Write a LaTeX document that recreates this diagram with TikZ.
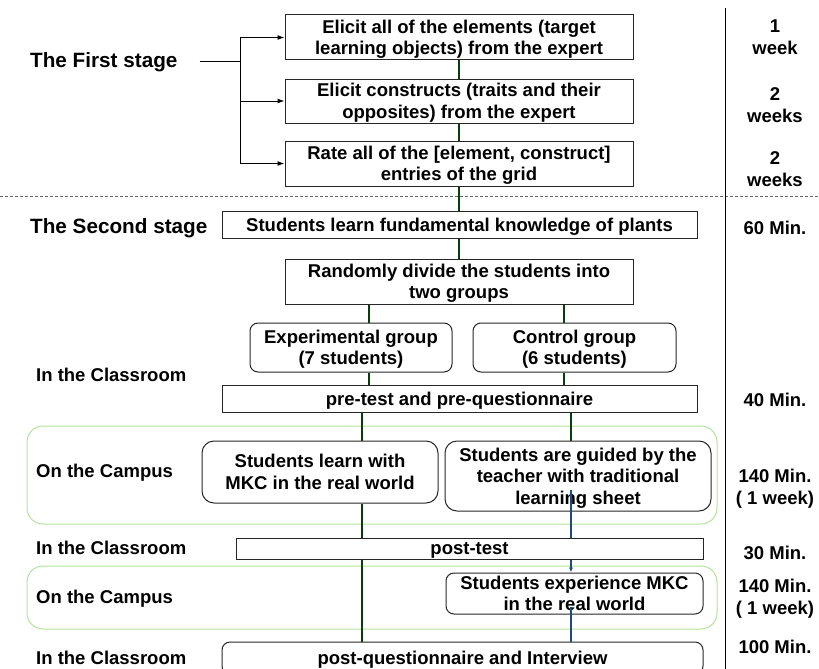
\documentclass[tikz,border=0pt]{standalone}
\usepackage{fontspec}
\setmainfont{Liberation Sans}
\usetikzlibrary{arrows.meta}
\definecolor{linkgreen}{HTML}{0B3D0B}
\definecolor{zonegreen}{HTML}{B3E39A}
\definecolor{linkblue}{HTML}{1C4C7C}

\begin{document}
\begin{tikzpicture}[x=1pt,y=-1pt,
	txt/.style={font=\bfseries\fontsize{18.5}{21.5}\selectfont, align=center, text depth=0pt},
	stagetxt/.style={font=\bfseries\fontsize{20.7}{24}\selectfont, anchor=west, inner sep=0pt},
	placetxt/.style={txt, anchor=west, inner sep=0pt},
	taskbox/.style={txt, draw=black!85, line width=1pt, inner sep=0pt},
	roundbox/.style={taskbox, rounded corners=8pt},
	greenlink/.style={linkgreen, line width=1.8pt},
	bluelink/.style={linkblue, line width=1.8pt},
	campuszone/.style={draw=zonegreen, line width=1pt, rounded corners=16pt}]
	\useasboundingbox (0,0) rectangle (819,669);

	\draw[campuszone] (27,426) rectangle (717,524);
	\draw[campuszone] (27,566) rectangle (717,629);
	\draw[dashed, dash pattern=on 3pt off 2pt, black!60, line width=0.8pt] (0,196) -- (819,196);
	\draw[line width=1pt] (725,8) -- (725,669);

	\node[stagetxt] (first) at (30,62) {The First stage};
	\node[stagetxt] (second) at (30,228) {The Second stage};
	\node[placetxt] (room1) at (36,375) {In the Classroom};
	\node[placetxt] (campus1) at (36,471) {On the Campus};
	\node[placetxt] (room2) at (36,548) {In the Classroom};
	\node[placetxt] (campus2) at (36,597) {On the Campus};
	\node[placetxt] (room3) at (36,658) {In the Classroom};

	\node[taskbox, minimum width=348pt, minimum height=45pt] (elicitel) at (459,37.5) {Elicit all of the elements (target\\learning objects) from the expert};
	\node[taskbox, minimum width=348pt, minimum height=44pt] (elicitcon) at (459,101) {Elicit constructs (traits and their\\opposites) from the expert};
	\node[taskbox, minimum width=348pt, minimum height=45pt] (rate) at (459,163.5) {Rate all of the [element, construct]\\entries of the grid};

	\node[taskbox, minimum width=475pt, minimum height=27pt] (fund) at (459.5,224.5) {Students learn fundamental knowledge of plants};
	\node[taskbox, minimum width=348pt, minimum height=45pt] (divide) at (459,281.5) {Randomly divide the students into\\two groups};
	\node[roundbox, minimum width=202pt, minimum height=49pt] (expgroup) at (351,347.5) {Experimental group\\(7 students)};
	\node[roundbox, minimum width=203pt, minimum height=49pt] (ctrlgroup) at (574.5,347.5) {Control group\\(6 students)};
	\node[taskbox, minimum width=475pt, minimum height=27pt] (pretest) at (459.5,398.5) {pre-test and pre-questionnaire};
	\node[roundbox, rounded corners=12pt, minimum width=236pt, minimum height=62pt] (mkc) at (320,472) {Students learn with\\MKC in the real world};
	\node[roundbox, rounded corners=12pt, minimum width=266pt, minimum height=70pt] (guided) at (578,476) {Students are guided by the\\teacher with traditional\\learning sheet};
	\node[taskbox, minimum width=467pt, minimum height=21pt] (posttest) at (469.5,548.5) {post-test};
	\node[roundbox, minimum width=257pt, minimum height=41pt] (experience) at (574.5,593.5) {Students experience MKC\\in the real world};
	\node[roundbox, minimum width=481pt, minimum height=32pt] (postq) at (462.5,658) {post-questionnaire and Interview};

	\node[txt] (t1) at (775,37) {1\\week};
	\node[txt] (t2) at (775,105) {2\\weeks};
	\node[txt] (t3) at (775,169) {2\\weeks};
	\node[txt] (t4) at (775,228) {60 Min.};
	\node[txt] (t5) at (775,400) {40 Min.};
	\node[txt] (t6) at (775,487) {140 Min.\\( 1 week)};
	\node[txt] (t7) at (775,553) {30 Min.};
	\node[txt] (t8) at (775,597) {140 Min.\\( 1 week)};
	\node[txt] (t9) at (775,647) {100 Min.};

	\coordinate (fork) at (240,62);
	\coordinate (xa) at (369,0);
	\coordinate (xb) at (564,0);
	\coordinate (xc) at (362,0);
	\coordinate (xd) at (571,0);

	\draw[line width=1pt] ([xshift=22pt]first.east) -- (fork);
	\draw[line width=1pt, -{Latex[length=7pt,width=5pt]}] (fork) |- (elicitel.west);
	\draw[line width=1pt, -{Latex[length=7pt,width=5pt]}] (fork) |- (elicitcon.west);
	\draw[line width=1pt, -{Latex[length=7pt,width=5pt]}] (fork) |- (rate.west);

	\draw[greenlink] (elicitel.south) -- (elicitcon.north);
	\draw[greenlink] (elicitcon.south) -- (rate.north);
	\draw[greenlink] (rate.south) -- (fund.north -| rate.south);
	\draw[greenlink] (fund.south -| divide.north) -- (divide.north);
	\draw[greenlink] (divide.south -| xa) -- (expgroup.north -| xa);
	\draw[greenlink] (divide.south -| xb) -- (ctrlgroup.north -| xb);
	\draw[greenlink] (expgroup.south -| xa) -- (pretest.north -| xa);
	\draw[greenlink] (ctrlgroup.south -| xb) -- (pretest.north -| xb);
	\draw[greenlink] (pretest.south -| xc) -- (mkc.north -| xc);
	\draw[greenlink] (pretest.south -| xd) -- (guided.north -| xd);
	\draw[greenlink] (mkc.south -| xc) -- (posttest.north -| xc);
	\draw[greenlink] (posttest.south -| xc) -- (postq.north -| xc);

	\draw[bluelink] ([yshift=-14pt]guided.center -| xd) -- (posttest.north -| xd);
	\draw[bluelink, -{Latex[length=5pt,width=4pt]}] (posttest.south -| xd) -- (experience.north -| xd);
	\draw[bluelink] ([yshift=-13pt]experience.center -| xd) -- (postq.north -| xd);
\end{tikzpicture}
\end{document}
